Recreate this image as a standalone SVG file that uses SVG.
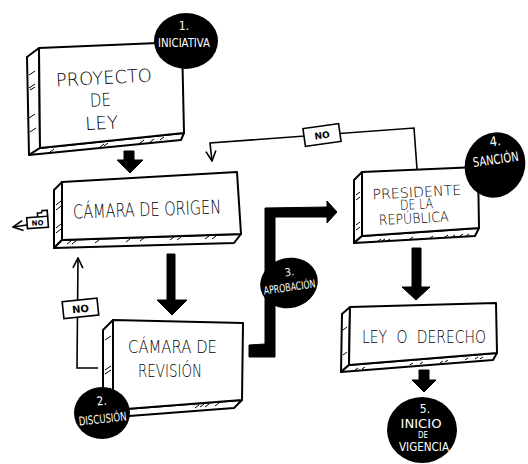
<svg xmlns="http://www.w3.org/2000/svg" width="528" height="464" viewBox="0 0 528 464">
<defs>
<style>
.face{fill:#fff;stroke:#000;stroke-width:2;stroke-linejoin:round}
.hatch{fill:none;stroke:#000;stroke-width:1}
.conn{fill:none;stroke:#000;stroke-width:1.6}
.thick{fill:#000;stroke:#000;stroke-width:1;stroke-linejoin:round}
.bt{font-family:"DejaVu Sans","Liberation Sans",sans-serif;font-weight:200;fill:#000}
.ct{font-family:"DejaVu Sans Condensed","DejaVu Sans","Liberation Sans",sans-serif;font-weight:300;fill:#fff;text-anchor:middle}
.tag{fill:#fff;stroke:#000;stroke-width:1.6}
.tt{font-family:"DejaVu Sans","Liberation Sans",sans-serif;font-size:9px;font-weight:bold;fill:#000;text-anchor:middle}
</style>
<marker id="open" viewBox="0 0 12 12" refX="11" refY="6" markerWidth="12" markerHeight="12" markerUnits="userSpaceOnUse" orient="auto">
<path d="M1,1 L11,6 L1,11" fill="none" stroke="#000" stroke-width="1.6"/>
</marker>
</defs>

<g id="connectors">
<path class="conn" d="M417,169 L414,128 L210,143 L212,161" marker-end="url(#open)"/>
<path class="conn" d="M98,368 L77,368 L78,258" marker-end="url(#open)"/>
<path class="conn" d="M27,225 L13,227" marker-end="url(#open)"/>
<polygon class="thick" points="124,151 134,151 134,160 143,160 130,173 117,160 124,160"/>
<polygon class="thick" points="167,254 175,254 175,300 187,300 172,315 157,300 167,300"/>
<polygon class="thick" points="249,345 265,344 265,208 327,207 327,201 337,212 327,223 327,217 275,217 275,357 249,357"/>
<polygon class="thick" points="412,248 421,248 421,287 430,287 416,300 402,287 412,287"/>
<polygon class="thick" points="419,370 429,370 429,380 436,380 424,392 412,380 419,380"/>
<g transform="rotate(-8 322 135)">
<rect class="tag" x="304" y="126" width="36" height="18"/>
<text class="tt" x="322" y="138.5" font-size="11">NO</text>
</g>
<g transform="rotate(-6 80 309)">
<rect class="tag" x="63" y="300" width="35" height="17"/>
<text class="tt" x="80.5" y="312.5" style="font-size:10px">NO</text>
</g>
<g transform="rotate(-4 37 222)">
<path class="tag" d="M38,217 L38,213 L42,213 L43,211 L48,211 L48,217"/>
<rect class="tag" x="27" y="217" width="21" height="11"/>
<text class="tt" x="37.5" y="225.5" style="font-size:7px">NO</text>
</g>
</g>

<g id="node-proyecto">
<polygon class="face" points="27,57 39,48 40,148 29,155"/>
<polygon class="face" points="40,148 184,133 181,140 29,155"/>
<polygon class="face" points="39,48 182,42 184,133 40,148"/>
<path class="hatch" d="M29,75 l6,-4 M29,88 l6,-4 M30,90 l5,-3 M29,118 l6,-4 M30,132 l6,-4 M50,152 l4,-3 M100,147 l4,-3 M104,146 l4,-3 M140,143 l4,-3 M150,142 l4,-3 M160,140 l4,-3"/>
<text class="bt" font-size="18" transform="rotate(-3 105 100)"><tspan x="57" y="84" textLength="96" lengthAdjust="spacingAndGlyphs">PROYECTO</tspan><tspan x="90" y="106" textLength="21" lengthAdjust="spacingAndGlyphs">DE</tspan><tspan x="84" y="129" textLength="33" lengthAdjust="spacingAndGlyphs">LEY</tspan></text>
</g>

<g id="node-origen">
<polygon class="face" points="54,190 62,182 62,240 54,248"/>
<polygon class="face" points="62,240 241,234 234,243 54,248"/>
<polygon class="face" points="62,182 237,172 241,234 62,240"/>
<path class="hatch" d="M56,205 l5,-4 M56,210 l5,-4 M56,228 l5,-4 M56,233 l5,-4 M67,244 l4,-3 M72,244 l4,-3 M95,243 l4,-3 M126,242 l4,-3 M140,241 l4,-3 M170,240 l4,-3 M177,240 l4,-3 M205,239 l4,-3 M212,239 l4,-3"/>
<text class="bt" font-size="19" x="73" y="216" textLength="148" lengthAdjust="spacingAndGlyphs" transform="rotate(-2 147 208)">CÁMARA DE ORIGEN</text>
</g>

<g id="node-revision">
<polygon class="face" points="103,330 113,320 113,410 103,418"/>
<polygon class="face" points="113,410 242,400 234,408 103,418"/>
<polygon class="face" points="113,320 243,323 242,400 113,410"/>
<path class="hatch" d="M105,340 l6,-4 M105,370 l6,-4 M105,374 l6,-4 M105,392 l6,-4 M195,408 l4,-3 M200,407 l4,-3 M205,407 l4,-3 M215,406 l4,-3"/>
<text class="bt" font-size="18"><tspan x="128" y="353" textLength="89" lengthAdjust="spacingAndGlyphs">CÁMARA DE</tspan><tspan x="138" y="377" textLength="64" lengthAdjust="spacingAndGlyphs">REVISIÓN</tspan></text>
</g>

<g id="node-presidente">
<polygon class="face" points="354,180 362,172 362,236 354,243"/>
<polygon class="face" points="362,236 479,228 475,236 354,243"/>
<polygon class="face" points="362,172 478,167 479,228 362,236"/>
<path class="hatch" d="M356,195 l4,-3 M356,200 l4,-3 M356,225 l4,-3 M356,230 l4,-3 M378,241 l3,-2 M382,241 l3,-2 M387,241 l3,-2 M410,239 l3,-2 M430,238 l3,-2 M445,237 l3,-2 M452,237 l3,-2 M460,236 l3,-2 M466,236 l3,-2"/>
<text class="bt" font-size="14" transform="rotate(-3 418 205)"><tspan x="373" y="197" textLength="89" lengthAdjust="spacingAndGlyphs">PRESIDENTE</tspan><tspan x="400" y="209" textLength="33" lengthAdjust="spacingAndGlyphs">DE LA</tspan><tspan x="378" y="223" textLength="70" lengthAdjust="spacingAndGlyphs">REPÚBLICA</tspan></text>
</g>

<g id="node-ley">
<polygon class="face" points="342,314 350,307 349,365 341,372"/>
<polygon class="face" points="349,365 497,353 493,360 341,372"/>
<polygon class="face" points="350,307 496,303 497,353 349,365"/>
<path class="hatch" d="M343,330 l4,-3 M343,355 l4,-3 M355,370 l3,-2 M362,369 l3,-2 M410,365 l3,-2 M420,364 l3,-2 M440,363 l3,-2 M445,362 l3,-2 M465,360 l3,-2 M475,359 l3,-2 M480,359 l3,-2"/>
<text class="bt" font-size="17" x="362" y="343" textLength="124" lengthAdjust="spacingAndGlyphs" word-spacing="6">LEY O DERECHO</text>
</g>

<g id="step-1">
<ellipse cx="186" cy="41" rx="32" ry="28" fill="#000"/>
<text class="ct" font-size="12"><tspan x="184" y="30">1.</tspan><tspan x="184" y="47" textLength="52" lengthAdjust="spacingAndGlyphs">INICIATIVA</tspan></text>
</g>
<g id="step-2">
<ellipse cx="102" cy="413" rx="28" ry="26" fill="#000"/>
<text class="ct" font-size="12" transform="rotate(-6 102 413)"><tspan x="103" y="405">2.</tspan><tspan x="102" y="423" textLength="48" lengthAdjust="spacingAndGlyphs">DISCUSIÓN</tspan></text>
</g>
<g id="step-3">
<ellipse cx="289" cy="283" rx="29" ry="25" fill="#000" transform="rotate(-15 289 283)"/>
<text class="ct" font-size="11" transform="rotate(-8 289 283)"><tspan x="291" y="276">3.</tspan><tspan x="289" y="291" textLength="52" lengthAdjust="spacingAndGlyphs">APROBACIÓN</tspan></text>
</g>
<g id="step-4">
<ellipse cx="495" cy="165" rx="30" ry="33" fill="#000" transform="rotate(20 495 165)"/>
<text class="ct" font-size="13" transform="rotate(-8 495 155)"><tspan x="497" y="146">4.</tspan><tspan x="495" y="164" textLength="46" lengthAdjust="spacingAndGlyphs">SANCIÓN</tspan></text>
</g>
<g id="step-5">
<ellipse cx="422" cy="430" rx="35" ry="33" fill="#000"/>
<text class="ct" font-size="12"><tspan x="425" y="413">5.</tspan><tspan x="421" y="428" textLength="41" lengthAdjust="spacingAndGlyphs">INICIO</tspan><tspan x="423" y="438" style="font-size:8px">DE</tspan><tspan x="424" y="451" textLength="50" lengthAdjust="spacingAndGlyphs">VIGENCIA</tspan></text>
</g>
</svg>
